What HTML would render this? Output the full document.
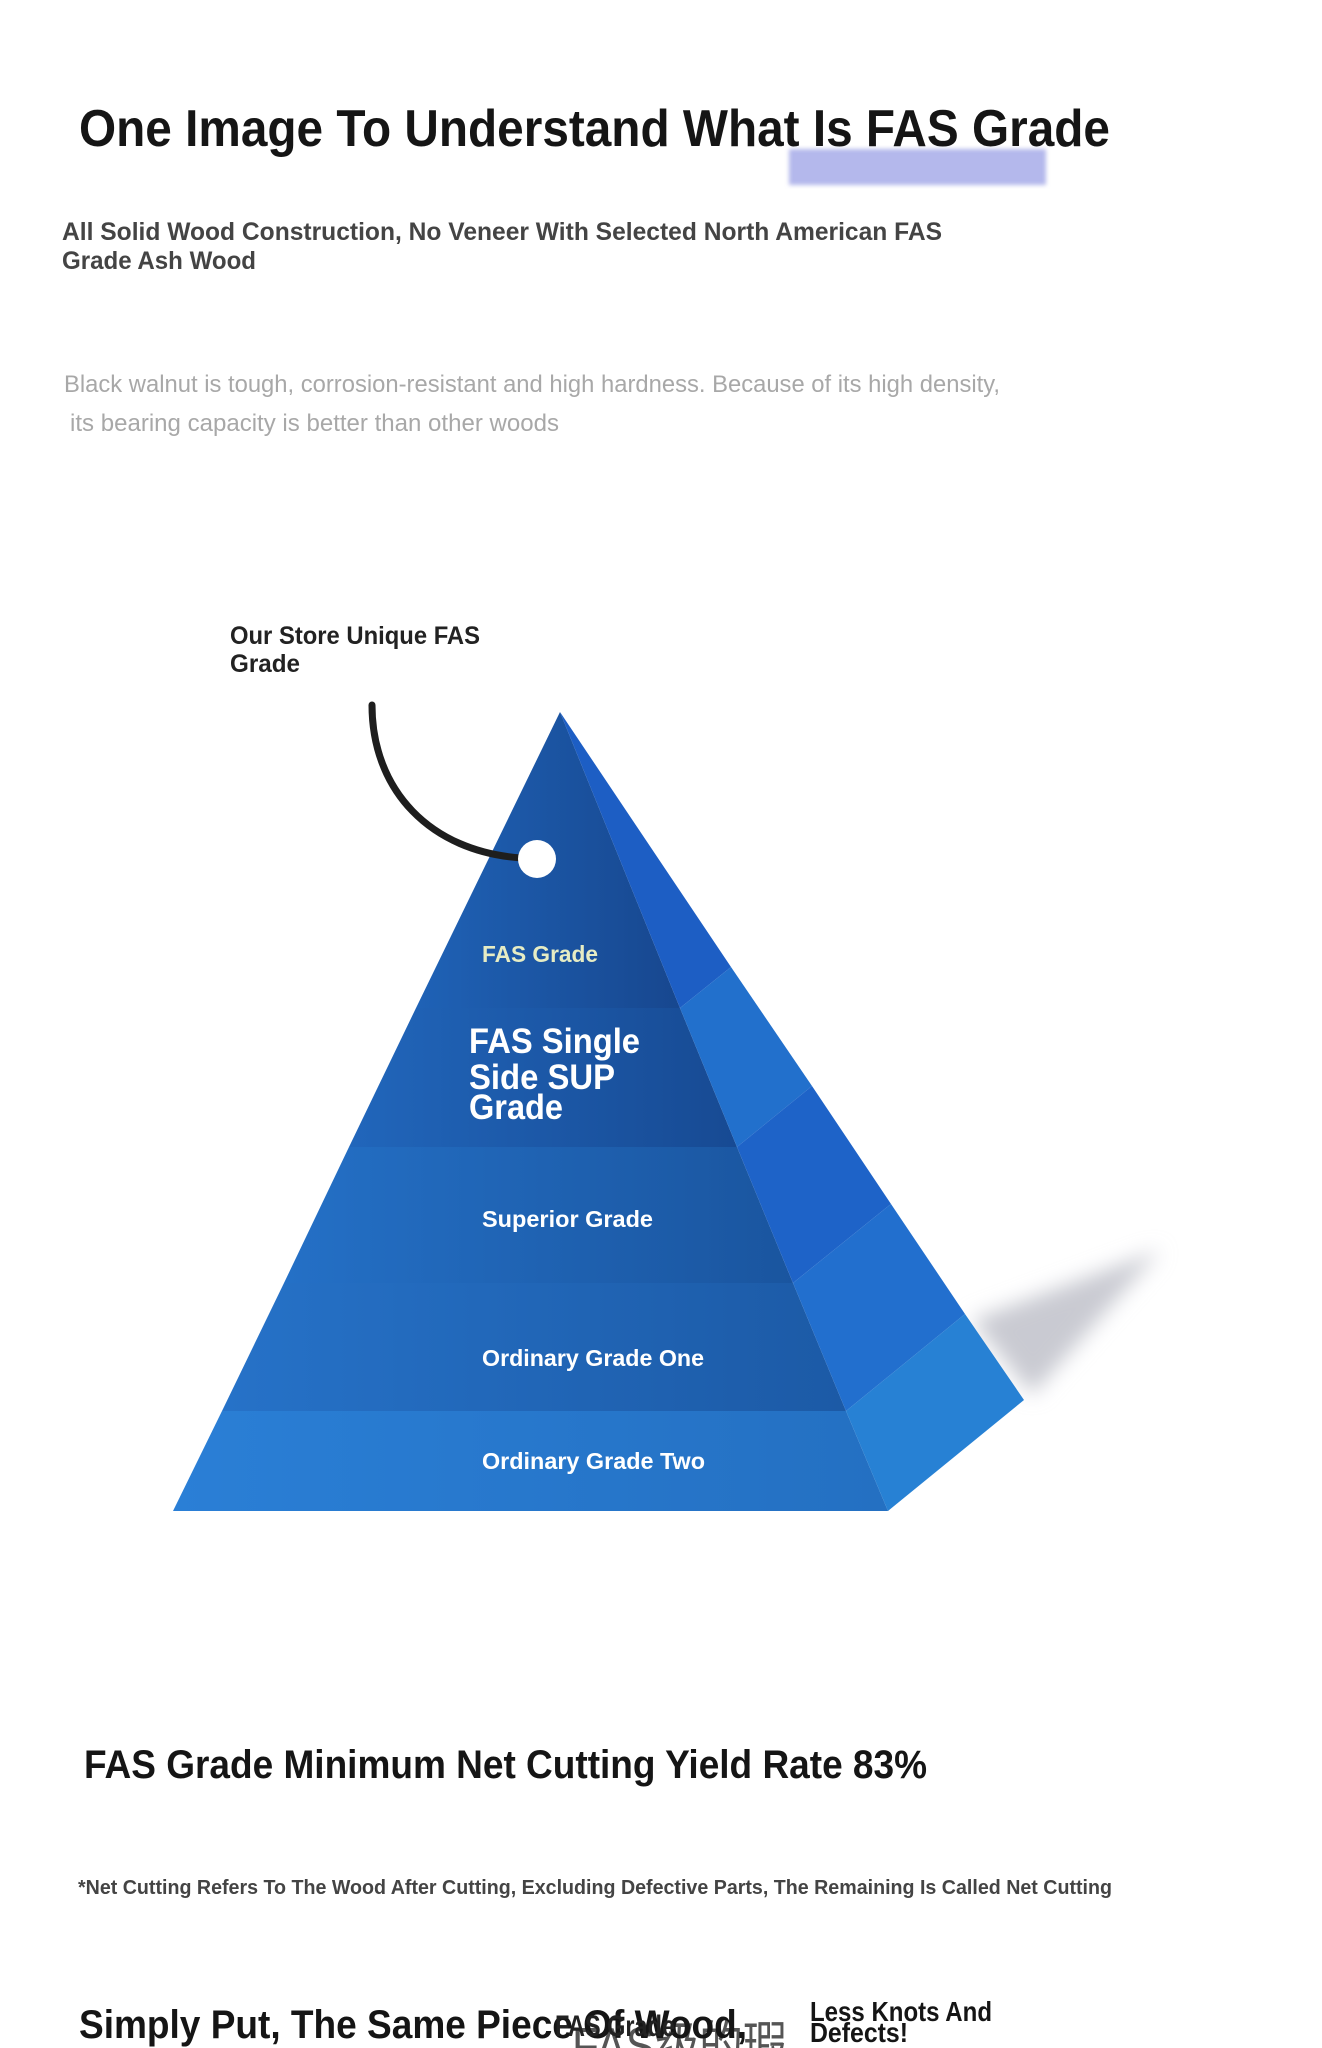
<!DOCTYPE html>
<html><head><meta charset="utf-8"><style>
html,body{margin:0;padding:0;background:#fff;}
svg{display:block;}
text{font-family:"Liberation Sans","Noto Sans CJK SC",sans-serif;font-weight:bold;}
</style></head><body>
<svg width="1322" height="2048" viewBox="0 0 1322 2048" xmlns="http://www.w3.org/2000/svg">
<defs>
<linearGradient id="bt" x1="0" x2="1" y1="0" y2="0"><stop offset="0" stop-color="#1f62b6"/><stop offset="1" stop-color="#17478f"/></linearGradient>
<linearGradient id="b2" x1="0" x2="1" y1="0" y2="0"><stop offset="0" stop-color="#2166bb"/><stop offset="1" stop-color="#174a93"/></linearGradient>
<linearGradient id="b3" x1="0" x2="1" y1="0" y2="0"><stop offset="0" stop-color="#2470c6"/><stop offset="1" stop-color="#1a559f"/></linearGradient>
<linearGradient id="b4" x1="0" x2="1" y1="0" y2="0"><stop offset="0" stop-color="#2672c8"/><stop offset="1" stop-color="#1c5aa6"/></linearGradient>
<linearGradient id="b5" x1="0" x2="1" y1="0" y2="0"><stop offset="0" stop-color="#2a7fd6"/><stop offset="1" stop-color="#2470c2"/></linearGradient>
<filter id="bl" x="-50%" y="-50%" width="200%" height="200%"><feGaussianBlur stdDeviation="10"/></filter>
<filter id="bl2"><feGaussianBlur stdDeviation="2"/></filter>
</defs>

<rect x="789" y="149" width="257" height="36" fill="#b4b8ec" filter="url(#bl2)"/>
<text x="79" y="146" font-size="52" fill="#151515" textLength="1031" lengthAdjust="spacingAndGlyphs">One Image To Understand What Is FAS Grade</text>

<text x="62" y="240" font-size="25" fill="#444" textLength="880" lengthAdjust="spacingAndGlyphs">All Solid Wood Construction, No Veneer With Selected North American FAS</text>
<text x="62" y="269" font-size="25" fill="#444" textLength="194" lengthAdjust="spacingAndGlyphs">Grade Ash Wood</text>

<text x="64" y="392" font-size="24" fill="#a8a8a8" style="font-weight:normal" textLength="936" lengthAdjust="spacingAndGlyphs">Black walnut is tough, corrosion-resistant and high hardness. Because of its high density,</text>
<text x="70" y="431" font-size="24" fill="#a8a8a8" style="font-weight:normal" textLength="489" lengthAdjust="spacingAndGlyphs">its bearing capacity is better than other woods</text>

<text x="230" y="644" font-size="25" fill="#222" textLength="250" lengthAdjust="spacingAndGlyphs">Our Store Unique FAS</text>
<text x="230" y="672" font-size="25" fill="#222" textLength="70" lengthAdjust="spacingAndGlyphs">Grade</text>

<polygon points="972,1320 1160,1250 1032,1395" fill="#c9cad2" filter="url(#bl)"/>

<polygon points="560,712 680,1008 416,1008" fill="url(#bt)"/>
<polygon points="416,1008 680,1008 737,1147 349,1147" fill="url(#b2)"/>
<polygon points="349,1147 737,1147 793,1283 284,1283" fill="url(#b3)"/>
<polygon points="284,1283 793,1283 846,1411 222,1411" fill="url(#b4)"/>
<polygon points="222,1411 846,1411 888,1511 173,1511" fill="url(#b5)"/>
<polygon points="560,712 731,967 680,1008" fill="#1d5ec4"/>
<polygon points="680,1008 731,967 812,1086 737,1147" fill="#2270cc"/>
<polygon points="737,1147 812,1086 891,1204 793,1283" fill="#1e63c8"/>
<polygon points="793,1283 891,1204 965,1314 846,1411" fill="#226fce"/>
<polygon points="846,1411 965,1314 1024,1400 888,1511" fill="#2781d4"/>

<path d="M372,705 C372,790 430,852 522,858" stroke="#1e1e1e" stroke-width="7" fill="none" stroke-linecap="round"/>
<circle cx="537" cy="859" r="19" fill="#fff"/>

<text x="482" y="962" font-size="23" fill="#e6ecc4" textLength="116" lengthAdjust="spacingAndGlyphs">FAS Grade</text>
<text x="469" y="1053" font-size="35" fill="#fff" textLength="171" lengthAdjust="spacingAndGlyphs">FAS Single</text>
<text x="469" y="1089" font-size="35" fill="#fff" textLength="146" lengthAdjust="spacingAndGlyphs">Side SUP</text>
<text x="469" y="1119" font-size="35" fill="#fff" textLength="94" lengthAdjust="spacingAndGlyphs">Grade</text>
<text x="482" y="1227" font-size="23" fill="#fff" textLength="171" lengthAdjust="spacingAndGlyphs">Superior Grade</text>
<text x="482" y="1366" font-size="23" fill="#fff" textLength="222" lengthAdjust="spacingAndGlyphs">Ordinary Grade One</text>
<text x="482" y="1469" font-size="23" fill="#fff" textLength="223" lengthAdjust="spacingAndGlyphs">Ordinary Grade Two</text>

<text x="84" y="1778" font-size="40" fill="#151515" textLength="843" lengthAdjust="spacingAndGlyphs">FAS Grade Minimum Net Cutting Yield Rate 83%</text>
<text x="78" y="1894" font-size="20" fill="#444" textLength="1034" lengthAdjust="spacingAndGlyphs">*Net Cutting Refers To The Wood After Cutting, Excluding Defective Parts, The Remaining Is Called Net Cutting</text>

<text x="572" y="2064" font-size="52" fill="#555" style="font-weight:normal" textLength="215" lengthAdjust="spacingAndGlyphs">FAS级的瑕</text>
<text x="79" y="2038" font-size="40" fill="#151515" textLength="668" lengthAdjust="spacingAndGlyphs">Simply Put, The Same Piece Of Wood,</text>
<text x="555" y="2036" font-size="30" fill="#222" textLength="120" lengthAdjust="spacingAndGlyphs">FAS Grade</text>
<text x="810" y="2021" font-size="28" fill="#151515" textLength="182" lengthAdjust="spacingAndGlyphs">Less Knots And</text>
<text x="810" y="2042" font-size="28" fill="#151515" textLength="98" lengthAdjust="spacingAndGlyphs">Defects!</text>
</svg>
</body></html>
